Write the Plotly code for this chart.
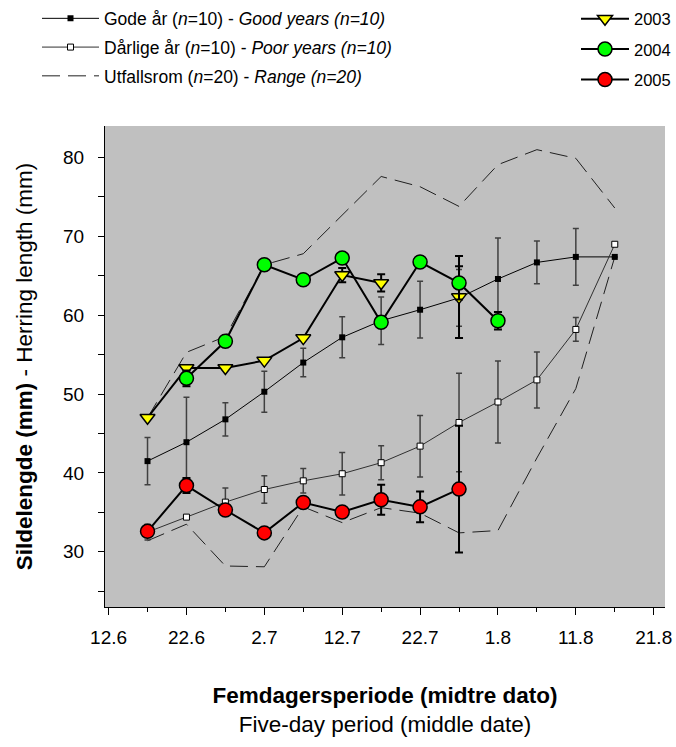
import datetime as dt
import plotly.graph_objects as go

# ---------------- data ----------------
period_mid_dates = ["17.6", "22.6", "27.6", "2.7", "7.7", "12.7", "17.7",
                    "22.7", "27.7", "1.8", "6.8", "11.8", "16.8"]
tick_dates = ["12.6", "22.6", "2.7", "12.7", "22.7", "1.8", "11.8", "21.8"]

good_years = [41.5, 43.9, 46.8, 50.3, 54.0, 57.2, 59.3, 60.7, 62.2, 64.6, 66.7, 67.4, 67.4]
good_sd = [3.0, 5.7, 2.1, 2.6, 1.8, 2.6, 3.0, 3.6, 3.6, 5.2, 2.7, 3.6, None]

poor_years = [32.5, 34.4, 36.3, 37.9, 39.0, 39.9, 41.3, 43.4, 46.4, 49.0, 51.8, 58.2, 69.0]
poor_sd = [1.0, None, 1.8, 1.75, 1.55, 2.7, 2.15, 3.9, 6.25, 5.2, 3.55, 1.5, None]

range_high = [47.0, 55.3, 57.3, 66.4, 67.8, 72.7, 77.6, 76.3, 73.8, 79.1, 81.0, 79.9, 73.6]
range_low = [31.4, 33.5, 28.2, 28.1, 35.7, 33.7, 35.6, 34.9, 32.4, 32.7, 41.9, 50.7, 67.4]

y2003 = [47.0, 53.3, 53.3, 54.25, 57.1, 65.1, 64.1, None, 62.3, None, None, None, None]
sd2003 = [None, None, None, None, None, 0.9, 1.1, None, 5.2, None, None, None, None]
y2004 = [None, 52.0, 56.7, 66.4, 64.5, 67.25, 59.1, 66.75, 64.1, 59.3, None, None, None]
sd2004 = [None, 1.0, None, None, None, None, None, None, 2.1, 1.1, None, None, None]
y2005 = [32.6, 38.4, 35.3, 32.4, 36.25, 35.05, 36.6, 35.7, 37.95, None, None, None, None]
sd2005 = [None, 0.95, None, None, None, None, 1.9, 1.95, 8.05, None, None, None, None]


def day_offset(label, origin="12.6"):
    d, m = (int(v) for v in label.split("."))
    d0, m0 = (int(v) for v in origin.split("."))
    return (dt.date(2001, m, d) - dt.date(2001, m0, d0)).days


x = [day_offset(s) for s in period_mid_dates]
tickvals = [day_offset(s) for s in tick_dates]

FONT = "Liberation Sans, Arial, sans-serif"

fig = go.Figure()

dash_line = dict(color="#202020", width=1, dash="18px,8px")
fig.add_trace(go.Scatter(x=x, y=range_high, mode="lines", line=dash_line,
                         name="Utfallsrom (<i>n</i>=20) - <i>Range (n=20)</i>",
                         legend="legend", legendrank=3, legendgroup="range"))
fig.add_trace(go.Scatter(x=x, y=range_low, mode="lines", line=dash_line,
                         showlegend=False, legendgroup="range"))

fig.add_trace(go.Scatter(
    x=x, y=good_years, mode="lines+markers",
    line=dict(color="black", width=1),
    marker=dict(symbol="square", size=6, color="black"),
    error_y=dict(type="data", array=good_sd, color="#404040", thickness=1.5, width=3),
    name="Gode år (<i>n</i>=10) - <i>Good years (n=10)</i>",
    legend="legend", legendrank=1, legendgroup="good"))

fig.add_trace(go.Scatter(
    x=x, y=poor_years, mode="lines+markers",
    line=dict(color="#303030", width=1),
    marker=dict(symbol="square", size=6, color="white", line=dict(color="black", width=1)),
    error_y=dict(type="data", array=poor_sd, color="#404040", thickness=1.5, width=3),
    name="Dårlige år (<i>n</i>=10) - <i>Poor years (n=10)</i>",
    legend="legend", legendrank=2, legendgroup="poor"))

for yy, sd, name, sym, col, size in [
    (y2003, sd2003, "2003", "triangle-down", "#FFFF00", 13),
    (y2004, sd2004, "2004", "circle", "#00FF00", 14),
    (y2005, sd2005, "2005", "circle", "#FF0000", 14),
]:
    fig.add_trace(go.Scatter(
        x=x, y=yy, mode="lines+markers", name=name, legend="legend2",
        legendgroup="y" + name,
        line=dict(color="black", width=2),
        marker=dict(symbol=sym, size=size, color=col, line=dict(color="black", width=1.5)),
        error_y=dict(type="data", array=sd, color="black", thickness=2, width=4),
    ))

fig.update_layout(
    width=676, height=747,
    margin=dict(l=105, r=11, t=126, b=140, autoexpand=False),
    paper_bgcolor="white", plot_bgcolor="#C0C0C0",
    font=dict(family=FONT, size=18, color="black"),
    showlegend=True,
    legend=dict(x=(37 - 105) / 560, y=1.261, xanchor="left", yanchor="top",
                bgcolor="rgba(0,0,0,0)", font=dict(size=17.5), itemwidth=57,
                tracegroupgap=3, traceorder="grouped"),
    legend2=dict(x=(576 - 105) / 560, y=1.259, xanchor="left", yanchor="top",
                 bgcolor="rgba(0,0,0,0)", font=dict(size=16.5), itemwidth=48,
                 tracegroupgap=6, traceorder="grouped"),
    xaxis=dict(
        range=[-0.46, 71.45], showgrid=False, zeroline=False,
        showline=True, linecolor="black", linewidth=1,
        tickmode="array", tickvals=tickvals, ticktext=tick_dates,
        ticks="outside", ticklen=7, tickcolor="black",
        minor=dict(dtick=5, tick0=0, ticks="outside", ticklen=4, tickcolor="black"),
        tickfont=dict(size=19), ticklabelstandoff=6,
        title=dict(text="<b>Femdagersperiode (midtre dato)</b><br>Five-day period (middle date)",
                   font=dict(size=22.5), standoff=40),
    ),
    yaxis=dict(
        range=[23.0, 84.0], showgrid=False, zeroline=False,
        showline=True, linecolor="black", linewidth=1,
        tick0=0, dtick=10, ticks="outside", ticklen=6, tickcolor="black",
        minor=dict(dtick=5, tick0=0, ticks="outside", ticklen=6, tickcolor="black"),
        tickfont=dict(size=19), ticklabelstandoff=10,
        title=dict(text="<b>Sildelengde (mm)</b> - Herring length (mm)",
                   font=dict(size=22.5), standoff=24),
    ),
    xaxis2=dict(
        overlaying="x", side="top", anchor="y", range=[-0.46, 71.45],
        showgrid=False, zeroline=False, showline=True, linecolor="black",
        tick0=0, dtick=5, ticks="inside", ticklen=4, tickcolor="black",
        showticklabels=False,
    ),
    yaxis2=dict(
        overlaying="y", side="right", anchor="x", range=[23.0, 84.0],
        showgrid=False, zeroline=False, showline=True, linecolor="black",
        tick0=0, dtick=5, ticks="inside", ticklen=4, tickcolor="black",
        showticklabels=False,
    ),
)

fig.write_html("out.html", config={"displayModeBar": False},
               post_script="document.body.style.margin='0px';")
